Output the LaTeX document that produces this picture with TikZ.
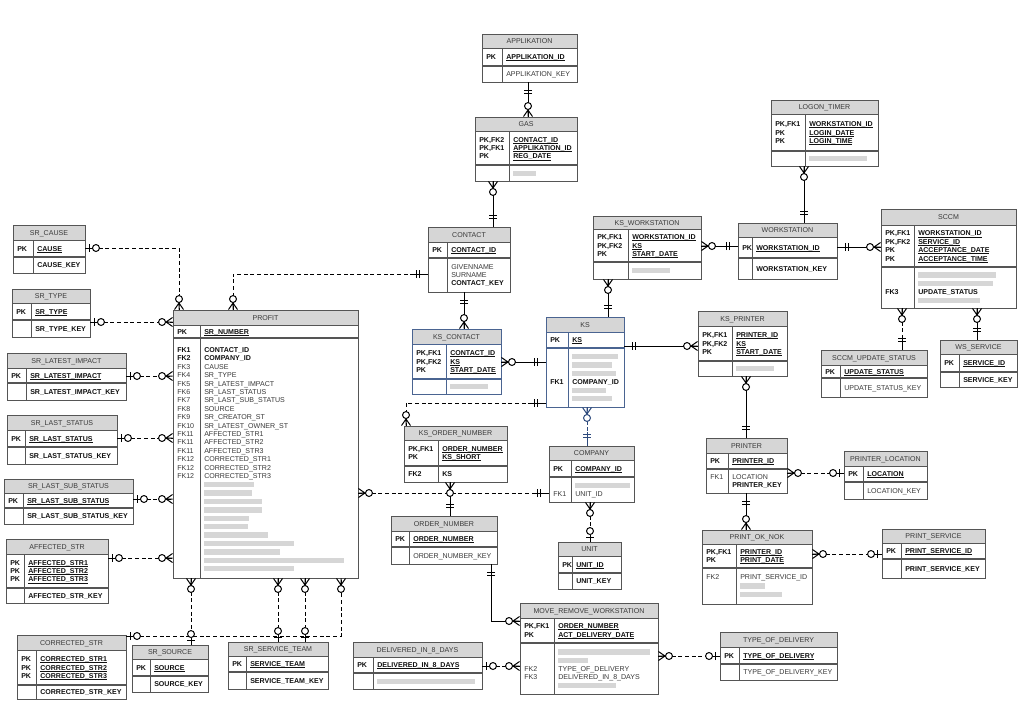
\documentclass[tikz,border=0pt]{standalone}
\usepackage{fontspec}
\setmainfont{Liberation Sans}
\usetikzlibrary{fit}
\definecolor{frm}{HTML}{555555}
\definecolor{hdrc}{HTML}{D6D6D6}
\definecolor{bfrm}{HTML}{4A6491}
\definecolor{bconn}{HTML}{2E4A7D}
\definecolor{txtg}{HTML}{3A3A3A}
\definecolor{txtb}{HTML}{111111}
\definecolor{blurc}{HTML}{D6D6D6}
\newcommand\pk[1]{\textbf{\textcolor{txtb}{\setbox0=\hbox{#1}\rlap{\rule[-0.9pt]{\wd0}{0.45pt}}\box0}}}
\newcommand\bo[1]{\textbf{\textcolor{txtb}{#1}}}
\newcommand\bl[1]{\textcolor{blurc}{\rule[-0.3pt]{\dimexpr 0.75pt*#1\relax}{4.0pt}}}
\tikzset{
 tframe/.style={draw=frm, line width=0.7pt},
 tline/.style={draw=frm, line width=0.6pt},
 txt/.style={inner sep=0pt, text=txtg, font=\fontsize{5.3}{6.3}\selectfont},
 ttl/.style={inner sep=0pt, text=txtg, font=\fontsize{5.3}{6.3}\selectfont},
 conn/.style={draw=black, line width=0.75pt},
 dconn/.style={conn, dash pattern=on 3pt off 2pt},
 mk/.style={draw=black, line width=0.75pt},
 bmk/.style={draw=bconn, line width=0.75pt},
}
% name, x1, y1, x2, y2, header bottom, row line, divider x, title
\newcommand\tbl[9]{%
 \fill[white] (#2,#3) rectangle (#4,#5);
 \fill[hdrc] (#2,#3) rectangle (#4,#6);
 \draw[tline] (#2,#6) -- (#4,#6) (#8,#6) -- (#8,#5);
 \draw[tline, line width=0.9pt] (#2,#7) -- (#4,#7);
 \node[tframe, fit={(#2,#3) (#4,#5)}, inner sep=0pt] (#1) {};
 \node[ttl, anchor=base] (#1-t) at ({(#2+#4)/2},{(#3+#6)/2+2.5}) {#9};}
% name, x, first center y, list
\newcommand\rows[4]{%
 \foreach \t [count=\i] in {#4} {\node[txt, anchor=base west] (#1\i) at (#2,{#3+(\i-1)*8.4+2.5}) {\t};}}
\newcommand\One[3][mk]{\begin{scope}[shift={(#2)},rotate=#3]\draw[#1] (0,0) -- (14,0) (8,-4) -- (8,4) (11,-4) -- (11,4);\end{scope}}
\newcommand\Zmany[3][mk]{\begin{scope}[shift={(#2)},rotate=#3]\draw[#1] (0,0) -- (7,0) (0,-4.5) -- (6.5,0) -- (0,4.5);\draw[#1,fill=white] (10.5,0) circle[radius=2.6pt];\end{scope}}
\newcommand\Zone[3][mk]{\begin{scope}[shift={(#2)},rotate=#3]\draw[#1] (0,0) -- (7,0) (4,-4) -- (4,4);\draw[#1,fill=white] (10.5,0) circle[radius=2.6pt];\end{scope}}
\begin{document}
\begin{tikzpicture}[x=0.75pt,y=-0.75pt]
\useasboundingbox (0,0) rectangle (1024,701);
\fill[white] (0,0) rectangle (1024,701);

% ---------------- tables ----------------
\tbl{app}{482}{34}{577}{82}{48}{66}{502}{APPLIKATION}
\rows{appk}{486}{57}{\bo{PK}}
\rows{appf}{506}{57}{\pk{APPLIKATION\_ID}}
\rows{appg}{506}{74}{APPLIKATION\_KEY}

\tbl{gas}{475}{117}{577}{181}{131}{165}{509}{GAS}
\rows{gask}{479}{139.6}{\bo{PK,FK2},\bo{PK,FK1},\bo{PK}}
\rows{gasf}{513}{139.6}{\pk{CONTACT\_ID},\pk{APPLIKATION\_ID},\pk{REG\_DATE}}
\rows{gasb}{513}{173}{\bl{23}}

\tbl{contact}{428}{227}{510}{292}{242}{258}{447}{CONTACT}
\rows{conk}{432}{250}{\bo{PK}}
\rows{conf}{451}{250}{\pk{CONTACT\_ID}}
\rows{cong}{451}{266.6}{GIVENNAME,SURNAME,\bo{CONTACT\_KEY}}

\begin{scope}[tframe/.style={draw=bfrm, line width=0.7pt}, tline/.style={draw=bfrm, line width=0.6pt}]
\tbl{kscontact}{412}{329}{501}{394}{344}{379}{446}{KS\_CONTACT}
\tbl{ks}{546}{317}{624}{407}{332}{348}{568}{KS}
\end{scope}
\rows{kscok}{416}{353.1}{\bo{PK,FK1},\bo{PK,FK2},\bo{PK}}
\rows{kscof}{450}{353.1}{\pk{CONTACT\_ID},\pk{KS},\pk{START\_DATE}}
\rows{kscob}{450}{386.5}{\bl{38}}
\rows{ksk}{550}{340}{\bo{PK}}
\rows{ksf}{572}{340}{\pk{KS}}
\rows{ksm}{550}{381.7}{\bo{FK1}}
\rows{ksg}{572}{356.5}{\bl{46},\bl{40},\bl{44},\bo{COMPANY\_ID},\bl{34},\bl{40}}

\tbl{kswork}{593}{216}{701}{279}{229}{262}{628}{KS\_WORKSTATION}
\rows{kswk}{597}{237.1}{\bo{PK,FK1},\bo{PK,FK2},\bo{PK}}
\rows{kswf}{632}{237.1}{\pk{WORKSTATION\_ID},\pk{KS},\pk{START\_DATE}}
\rows{kswb}{632}{270.5}{\bl{38}}

\tbl{work}{738}{223}{837}{279}{237}{258}{752}{WORKSTATION}
\rows{wk}{742}{247.5}{\bo{PK}}
\rows{wf}{756}{247.5}{\pk{WORKSTATION\_ID}}
\rows{wg}{756}{268.5}{\bo{WORKSTATION\_KEY}}

\tbl{logon}{771}{100}{878}{166}{114}{151}{805}{LOGON\_TIMER}
\rows{lgk}{775}{124.1}{\bo{PK,FK1},\bo{PK},\bo{PK}}
\rows{lgf}{809}{124.1}{\pk{WORKSTATION\_ID},\pk{LOGIN\_DATE},\pk{LOGIN\_TIME}}
\rows{lgb}{809}{158.5}{\bl{58}}

\tbl{sccm}{881}{209}{1016}{308}{225}{267}{914}{SCCM}
\rows{sck}{885}{233.4}{\bo{PK,FK1},\bo{PK,FK2},\bo{PK},\bo{PK}}
\rows{scf}{918}{233.4}{\pk{WORKSTATION\_ID},\pk{SERVICE\_ID},\pk{ACCEPTANCE\_DATE},\pk{ACCEPTANCE\_TIME}}
\rows{scm}{885}{291.7}{\bo{FK3}}
\rows{scg}{918}{274.9}{\bl{78},\bl{75},\bo{UPDATE\_STATUS},\bl{62}}

\tbl{sccmus}{821}{350}{927}{397}{365}{378}{840}{SCCM\_UPDATE\_STATUS}
\rows{susk}{825}{371.5}{\bo{PK}}
\rows{susf}{844}{371.5}{\pk{UPDATE\_STATUS}}
\rows{susg}{844}{387.5}{UPDATE\_STATUS\_KEY}

\tbl{wsserv}{940}{340}{1017}{387}{354}{372}{959}{WS\_SERVICE}
\rows{wssk}{944}{363}{\bo{PK}}
\rows{wssf}{963}{363}{\pk{SERVICE\_ID}}
\rows{wssg}{963}{379.5}{\bo{SERVICE\_KEY}}

\tbl{ksprint}{698}{311}{787}{376}{326}{361}{732}{KS\_PRINTER}
\rows{kspk}{702}{335.1}{\bo{PK,FK1},\bo{PK,FK2},\bo{PK}}
\rows{kspf}{736}{335.1}{\pk{PRINTER\_ID},\pk{KS},\pk{START\_DATE}}
\rows{kspb}{736}{368.5}{\bl{38}}

\tbl{printer}{706}{438}{787}{493}{453}{469}{728}{PRINTER}
\rows{prk}{710}{461}{\bo{PK}}
\rows{prf}{732}{461}{\pk{PRINTER\_ID}}
\rows{prm}{710}{476.8}{FK1}
\rows{prg}{732}{476.8}{LOCATION,\bo{PRINTER\_KEY}}

\tbl{ploc}{844}{451}{927}{499}{466}{482}{863}{PRINTER\_LOCATION}
\rows{plk}{848}{474}{\bo{PK}}
\rows{plf}{867}{474}{\pk{LOCATION}}
\rows{plg}{867}{490.5}{LOCATION\_KEY}

\tbl{pok}{702}{530}{812}{604}{544}{568}{736}{PRINT\_OK\_NOK}
\rows{pokk}{706}{551.8}{\bo{PK,FK1},\bo{PK}}
\rows{pokf}{740}{551.8}{\pk{PRINTER\_ID},\pk{PRINT\_DATE}}
\rows{pokm}{706}{577.3}{FK2}
\rows{pokg}{740}{577.3}{PRINT\_SERVICE\_ID,\bl{25},\bl{42}}

\tbl{pserv}{882}{529}{985}{578}{543}{559}{901}{PRINT\_SERVICE}
\rows{psk}{886}{551}{\bo{PK}}
\rows{psf}{905}{551}{\pk{PRINT\_SERVICE\_ID}}
\rows{psg}{905}{568.5}{\bo{PRINT\_SERVICE\_KEY}}

\tbl{kson}{404}{426}{507}{482}{440}{466}{438}{KS\_ORDER\_NUMBER}
\rows{konk}{408}{448.8}{\bo{PK,FK1},\bo{PK}}
\rows{konf}{442}{448.8}{\pk{ORDER\_NUMBER},\pk{KS\_SHORT}}
\rows{konm}{408}{474}{\bo{FK2}}
\rows{kong}{442}{474}{\bo{KS}}

\tbl{company}{549}{446}{634}{502}{460}{477}{571}{COMPANY}
\rows{cok}{553}{468.5}{\bo{PK}}
\rows{cof}{575}{468.5}{\pk{COMPANY\_ID}}
\rows{com}{553}{493.7}{FK1}
\rows{cog}{575}{485.3}{\bl{55},UNIT\_ID}

\tbl{ordnum}{391}{516}{497}{564}{531}{547}{409}{ORDER\_NUMBER}
\rows{onk}{395}{539}{\bo{PK}}
\rows{onf}{413}{539}{\pk{ORDER\_NUMBER}}
\rows{ong}{413}{555.5}{ORDER\_NUMBER\_KEY}

\tbl{unit}{558}{542}{621}{589}{556}{573}{572}{UNIT}
\rows{unk}{562}{564.5}{\bo{PK}}
\rows{unf}{576}{564.5}{\pk{UNIT\_ID}}
\rows{ung}{576}{581}{\bo{UNIT\_KEY}}

\tbl{mrw}{520}{603}{658}{694}{618}{643}{554}{MOVE\_REMOVE\_WORKSTATION}
\rows{mrk}{524}{626.3}{\bo{PK,FK1},\bo{PK}}
\rows{mrf}{558}{626.3}{\pk{ORDER\_NUMBER},\pk{ACT\_DELIVERY\_DATE}}
\rows{mrm}{524}{668.5}{FK2,FK3}
\rows{mrg}{558}{651.7}{\bl{92},\bl{30},TYPE\_OF\_DELIVERY,DELIVERED\_IN\_8\_DAYS,\bl{58}}

\tbl{deliv}{353}{642}{482}{689}{657}{673}{373}{DELIVERED\_IN\_8\_DAYS}
\rows{dek}{357}{665}{\bo{PK}}
\rows{def}{377}{665}{\pk{DELIVERED\_IN\_8\_DAYS}}
\rows{deb}{377}{681}{\bl{98}}

\tbl{tod}{720}{632}{837}{680}{647}{664}{739}{TYPE\_OF\_DELIVERY}
\rows{tok}{724}{655.5}{\bo{PK}}
\rows{tof}{743}{655.5}{\pk{TYPE\_OF\_DELIVERY}}
\rows{tog}{743}{672}{TYPE\_OF\_DELIVERY\_KEY}

\tbl{profit}{173}{310}{358}{578}{325}{338}{200}{PROFIT}
\rows{prok}{177}{331.5}{\bo{PK}}
\rows{prof}{204}{331.5}{\pk{SR\_NUMBER}}
\rows{prom}{177}{350}{\bo{FK1},\bo{FK2},FK3,FK4,FK5,FK6,FK7,FK8,FK9,FK10,FK11,FK11,FK11,FK12,FK12,FK12}
\rows{prog}{204}{350}{\bo{CONTACT\_ID},\bo{COMPANY\_ID},CAUSE,SR\_TYPE,SR\_LATEST\_IMPACT,SR\_LAST\_STATUS,SR\_LAST\_SUB\_STATUS,SOURCE,SR\_CREATOR\_ST,SR\_LATEST\_OWNER\_ST,AFFECTED\_STR1,AFFECTED\_STR2,AFFECTED\_STR3,CORRECTED\_STR1,CORRECTED\_STR2,CORRECTED\_STR3,\bl{50},\bl{48},\bl{58},\bl{58},\bl{45},\bl{44},\bl{64},\bl{90},\bl{76},\bl{140},\bl{90}}

\tbl{srcause}{13}{225}{85}{273}{240}{257}{33}{SR\_CAUSE}
\rows{sck1}{17}{248.5}{\bo{PK}}
\rows{scf1}{37}{248.5}{\pk{CAUSE}}
\rows{scg1}{37}{265}{\bo{CAUSE\_KEY}}

\tbl{srtype}{12}{289}{90}{337}{303}{320}{31}{SR\_TYPE}
\rows{stk}{16}{311.5}{\bo{PK}}
\rows{stf}{35}{311.5}{\pk{SR\_TYPE}}
\rows{stg}{35}{328.5}{\bo{SR\_TYPE\_KEY}}

\tbl{srlatest}{7}{353}{126}{400}{368}{383}{26}{SR\_LATEST\_IMPACT}
\rows{slik}{11}{375.5}{\bo{PK}}
\rows{slif}{30}{375.5}{\pk{SR\_LATEST\_IMPACT}}
\rows{slig}{30}{391.5}{\bo{SR\_LATEST\_IMPACT\_KEY}}

\tbl{srlast}{7}{415}{117}{464}{430}{447}{25}{SR\_LAST\_STATUS}
\rows{slsk}{11}{438.5}{\bo{PK}}
\rows{slsf}{29}{438.5}{\pk{SR\_LAST\_STATUS}}
\rows{slsg}{29}{455.5}{\bo{SR\_LAST\_STATUS\_KEY}}

\tbl{srsub}{4}{479}{133}{524}{493}{508}{23}{SR\_LAST\_SUB\_STATUS}
\rows{sssk}{8}{500.5}{\bo{PK}}
\rows{sssf}{27}{500.5}{\pk{SR\_LAST\_SUB\_STATUS}}
\rows{sssg}{27}{516}{\bo{SR\_LAST\_SUB\_STATUS\_KEY}}

\tbl{affected}{6}{539}{108}{603}{554}{588}{24}{AFFECTED\_STR}
\rows{afk}{10}{562.6}{\bo{PK},\bo{PK},\bo{PK}}
\rows{aff}{28}{562.6}{\pk{AFFECTED\_STR1},\pk{AFFECTED\_STR2},\pk{AFFECTED\_STR3}}
\rows{afg}{28}{595.5}{\bo{AFFECTED\_STR\_KEY}}

\tbl{corr}{17}{635}{126}{699}{650}{685}{36}{CORRECTED\_STR}
\rows{crk}{21}{659.1}{\bo{PK},\bo{PK},\bo{PK}}
\rows{crf}{40}{659.1}{\pk{CORRECTED\_STR1},\pk{CORRECTED\_STR2},\pk{CORRECTED\_STR3}}
\rows{crg}{40}{692}{\bo{CORRECTED\_STR\_KEY}}

\tbl{srsource}{132}{645}{208}{692}{659}{676}{150}{SR\_SOURCE}
\rows{ssok}{136}{667.5}{\bo{PK}}
\rows{ssof}{154}{667.5}{\pk{SOURCE}}
\rows{ssog}{154}{684}{\bo{SOURCE\_KEY}}

\tbl{srteam}{228}{642}{328}{689}{656}{672}{246}{SR\_SERVICE\_TEAM}
\rows{stek}{232}{664}{\bo{PK}}
\rows{stef}{250}{664}{\pk{SERVICE\_TEAM}}
\rows{steg}{250}{680.5}{\bo{SERVICE\_TEAM\_KEY}}

% ---------------- connectors ----------------
\draw[conn] (app.south -| 528,0) -- (gas.north -| 528,0);
\draw[conn] (gas.south -| 493,0) -- (contact.north -| 493,0);
\draw[conn] (contact.south -| 464,0) -- (kscontact.north -| 464,0);
\draw[conn] (kscontact.east |- 0,362) -- (ks.west |- 0,362);
\draw[conn] (kswork.south -| 608,0) -- (ks.north -| 608,0);
\draw[conn] (kswork.east |- 0,246) -- (work.west |- 0,246);
\draw[conn] (logon.south -| 804,0) -- (work.north -| 804,0);
\draw[conn] (work.east |- 0,247) -- (sccm.west |- 0,247);
\draw[conn] (sccm.south -| 977,0) -- (wsserv.north -| 977,0);
\draw[conn] (ks.east |- 0,346) -- (ksprint.west |- 0,346);
\draw[conn] (ksprint.south -| 746,0) -- (printer.north -| 746,0);
\draw[conn] (printer.south -| 746,0) -- (pok.north -| 746,0);
\draw[conn] (kson.south -| 450,0) -- (ordnum.north -| 450,0);
\draw[conn] (ordnum.south -| 491,0) |- (mrw.west |- 0,621);
\draw[dconn] (contact.west |- 0,274) -| (profit.north -| 233,0);
\draw[dconn] (sccm.south -| 902,0) -- (sccmus.north -| 902,0);
\draw[dconn] (printer.east |- 0,473) -- (ploc.west |- 0,473);
\draw[dconn] (pok.east |- 0,554) -- (pserv.west |- 0,554);
\draw[dconn] (ks.west |- 0,403) -| (kson.north -| 406,0);
\draw[dconn, draw=bconn] (ks.south -| 587,0) -- (company.north -| 587,0);
\draw[dconn] (company.south -| 590,0) -- (unit.north -| 590,0);
\draw[dconn] (profit.east |- 0,493) -- (company.west |- 0,493);
\draw[dconn] (deliv.east |- 0,666) -- (mrw.west |- 0,666);
\draw[dconn] (mrw.east |- 0,656) -- (tod.west |- 0,656);
\draw[dconn] (srcause.east |- 0,248) -| (profit.north -| 179,0);
\draw[dconn] (srtype.east |- 0,322) -- (profit.west |- 0,322);
\draw[dconn] (srlatest.east |- 0,376) -- (profit.west |- 0,376);
\draw[dconn] (srlast.east |- 0,438) -- (profit.west |- 0,438);
\draw[dconn] (srsub.east |- 0,499) -- (profit.west |- 0,499);
\draw[dconn] (affected.east |- 0,558) -- (profit.west |- 0,558);
\draw[dconn] (profit.south -| 191,0) -- (srsource.north -| 191,0);
\draw[dconn] (profit.south -| 278,0) -- (srteam.north -| 278,0);
\draw[dconn] (profit.south -| 305,0) -- (srteam.north -| 305,0);
\draw[dconn] (corr.east |- 0,636) -| (profit.south -| 341,0);

% ---------------- end marks ----------------
\One{app.south -| 528,0}{270} \Zmany{gas.north -| 528,0}{90}
\Zmany{gas.south -| 493,0}{270} \One{contact.north -| 493,0}{90}
\One{contact.west |- 0,274}{180} \Zmany{profit.north -| 233,0}{90}
\One{contact.south -| 464,0}{270} \Zmany{kscontact.north -| 464,0}{90}
\Zmany{kscontact.east |- 0,362}{0} \One{ks.west |- 0,362}{180}
\Zmany{kswork.south -| 608,0}{270} \One{ks.north -| 608,0}{90}
\Zmany{kswork.east |- 0,246}{0} \One{work.west |- 0,246}{180}
\Zmany{logon.south -| 804,0}{270} \One{work.north -| 804,0}{90}
\One{work.east |- 0,247}{0} \Zmany{sccm.west |- 0,247}{180}
\Zmany{sccm.south -| 902,0}{270} \One{sccmus.north -| 902,0}{90}
\Zmany{sccm.south -| 977,0}{270} \One{wsserv.north -| 977,0}{90}
\One{ks.east |- 0,346}{0} \Zmany{ksprint.west |- 0,346}{180}
\Zmany{ksprint.south -| 746,0}{270} \One{printer.north -| 746,0}{90}
\Zmany{printer.east |- 0,473}{0} \Zone{ploc.west |- 0,473}{180}
\One{printer.south -| 746,0}{270} \Zmany{pok.north -| 746,0}{90}
\Zmany{pok.east |- 0,554}{0} \Zone{pserv.west |- 0,554}{180}
\One{ks.west |- 0,403}{180} \Zmany{kson.north -| 406,0}{90}
\Zmany[bmk]{ks.south -| 587,0}{270} \One[bmk]{company.north -| 587,0}{90}
\Zmany{company.south -| 590,0}{270} \Zone{unit.north -| 590,0}{90}
\Zmany{profit.east |- 0,493}{0} \One{company.west |- 0,493}{180}
\Zmany{kson.south -| 450,0}{270} \One{ordnum.north -| 450,0}{90}
\One{ordnum.south -| 491,0}{270} \Zmany{mrw.west |- 0,621}{180}
\Zone{deliv.east |- 0,666}{0} \Zmany{mrw.west |- 0,666}{180}
\Zmany{mrw.east |- 0,656}{0} \Zone{tod.west |- 0,656}{180}
\Zone{srcause.east |- 0,248}{0} \Zmany{profit.north -| 179,0}{90}
\Zone{srtype.east |- 0,322}{0} \Zmany{profit.west |- 0,322}{180}
\Zone{srlatest.east |- 0,376}{0} \Zmany{profit.west |- 0,376}{180}
\Zone{srlast.east |- 0,438}{0} \Zmany{profit.west |- 0,438}{180}
\Zone{srsub.east |- 0,499}{0} \Zmany{profit.west |- 0,499}{180}
\Zone{affected.east |- 0,558}{0} \Zmany{profit.west |- 0,558}{180}
\Zmany{profit.south -| 191,0}{270} \Zone{srsource.north -| 191,0}{90}
\Zmany{profit.south -| 278,0}{270} \Zone{srteam.north -| 278,0}{90}
\Zmany{profit.south -| 305,0}{270} \Zone{srteam.north -| 305,0}{90}
\Zone{corr.east |- 0,636}{0} \Zmany{profit.south -| 341,0}{270}
\end{tikzpicture}
\end{document}
